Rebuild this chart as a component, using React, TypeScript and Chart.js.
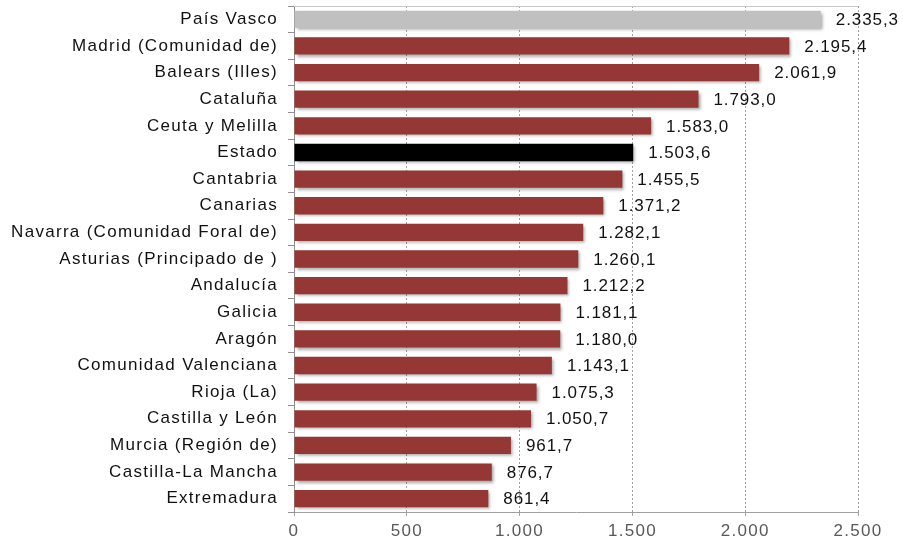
import React, { useEffect, useRef } from "react";
import { Chart, registerables } from "chart.js";

Chart.register(...registerables);

const categories = [
  "País Vasco",
  "Madrid (Comunidad de)",
  "Balears (Illes)",
  "Cataluña",
  "Ceuta y Melilla",
  "Estado",
  "Cantabria",
  "Canarias",
  "Navarra (Comunidad Foral de)",
  "Asturias (Principado de )",
  "Andalucía",
  "Galicia",
  "Aragón",
  "Comunidad Valenciana",
  "Rioja (La)",
  "Castilla y León",
  "Murcia (Región de)",
  "Castilla-La Mancha",
  "Extremadura",
];

const values = [
  2335.3, 2195.4, 2061.9, 1793.0, 1583.0, 1503.6, 1455.5, 1371.2, 1282.1, 1260.1,
  1212.2, 1181.1, 1180.0, 1143.1, 1075.3, 1050.7, 961.7, 876.7, 861.4,
];

const barColors = categories.map((c) =>
  c === "País Vasco" ? "#C0C0C0" : c === "Estado" ? "#000000" : "#953735"
);

const xTicks = [0, 500, 1000, 1500, 2000, 2500];

const fmt = (v: number, dec: number) => {
  const s = v.toFixed(dec);
  const [int, frac] = s.split(".");
  const withDots = int.replace(/\B(?=(\d{3})+(?!\d))/g, ".");
  return frac ? withDots + "," + frac : withDots;
};

const FONT = "'Liberation Sans', Arial, sans-serif";
const SPACING = "1.3px";

const spacingPlugin = {
  id: "letterSpacing",
  beforeInit(chart: any) {
    chart.ctx.letterSpacing = SPACING;
  },
  beforeUpdate(chart: any) {
    chart.ctx.letterSpacing = SPACING;
  },
  beforeLayout(chart: any) {
    chart.ctx.letterSpacing = SPACING;
  },
  beforeDraw(chart: any) {
    chart.ctx.letterSpacing = SPACING;
  },
};

const shadowPlugin = {
  id: "barShadow",
  beforeDatasetDraw(chart: any) {
    const ctx = chart.ctx;
    ctx.save();
    ctx.shadowColor = "rgba(0,0,0,0.35)";
    ctx.shadowOffsetX = 2;
    ctx.shadowOffsetY = 2;
    ctx.shadowBlur = 3;
  },
  afterDatasetDraw(chart: any) {
    chart.ctx.restore();
  },
};

const labelPlugin = {
  id: "valueLabels",
  afterDatasetsDraw(chart: any) {
    const ctx = chart.ctx;
    const meta = chart.getDatasetMeta(0);
    ctx.save();
    ctx.letterSpacing = "0.9px";
    ctx.font = `17px ${FONT}`;
    ctx.fillStyle = "#111111";
    ctx.textAlign = "left";
    ctx.textBaseline = "middle";
    meta.data.forEach((bar: any, i: number) => {
      ctx.fillText(fmt(values[i], 1), bar.x + 15, bar.y + 1);
    });
    ctx.restore();
  },
};

const topBorderPlugin = {
  id: "topBorder",
  beforeDatasetsDraw(chart: any) {
    const { ctx, chartArea } = chart;
    ctx.save();
    ctx.strokeStyle = "#C8C8C8";
    ctx.lineWidth = 1;
    ctx.beginPath();
    ctx.moveTo(chartArea.left, chartArea.top + 0.5);
    ctx.lineTo(chartArea.right, chartArea.top + 0.5);
    ctx.stroke();
    ctx.restore();
  },
};

export default function App() {
  const ref = useRef<HTMLCanvasElement | null>(null);

  useEffect(() => {
    if (!ref.current) return;
    const chart = new Chart(ref.current, {
      type: "bar",
      data: {
        labels: categories,
        datasets: [
          {
            data: values,
            backgroundColor: barColors,
            borderWidth: 0,
            barPercentage: 0.65,
            categoryPercentage: 1,
          },
        ],
      },
      options: {
        indexAxis: "y",
        animation: false,
        responsive: false,
        maintainAspectRatio: false,
        layout: { padding: { top: 6, right: 45, bottom: 0, left: 0 } },
        plugins: {
          legend: { display: false },
          tooltip: { enabled: false },
        },
        scales: {
          x: {
            min: 0,
            max: 2500,
            afterBuildTicks: (axis: any) => {
              axis.ticks = xTicks.map((v) => ({ value: v }));
            },
            afterFit: (axis: any) => {
              axis.height = 32;
              axis.paddingLeft = 0;
              axis.paddingRight = 0;
            },
            ticks: {
              color: "#595959",
              font: { family: FONT, size: 17 },
              padding: 5,
              maxRotation: 0,
              callback: (v: any) => fmt(Number(v), 0),
            },
            grid: {
              color: "#A0A0A0",
              tickLength: 4,
              tickBorderDash: [],
            },
            border: { display: true, color: "#A0A0A0", dash: [2, 2] },
          },
          y: {
            afterFit: (axis: any) => {
              axis.width = 294;
              axis.paddingTop = 0;
              axis.paddingBottom = 0;
            },
            ticks: {
              color: "#111111",
              font: { family: FONT, size: 17 },
              padding: 10,
              autoSkip: false,
            },
            grid: {
              drawOnChartArea: false,
              color: "#909090",
              tickLength: 6,
            },
            border: { display: true, color: "#909090" },
          },
        },
      },
      plugins: [spacingPlugin, topBorderPlugin, shadowPlugin, labelPlugin],
    });
    return () => chart.destroy();
  }, []);

  return (
    <div style={{ position: "fixed", left: 0, top: 0, width: 903, height: 544, background: "#fff" }}>
      <canvas ref={ref} width={903} height={544} style={{ width: 903, height: 544 }} />
    </div>
  );
}
